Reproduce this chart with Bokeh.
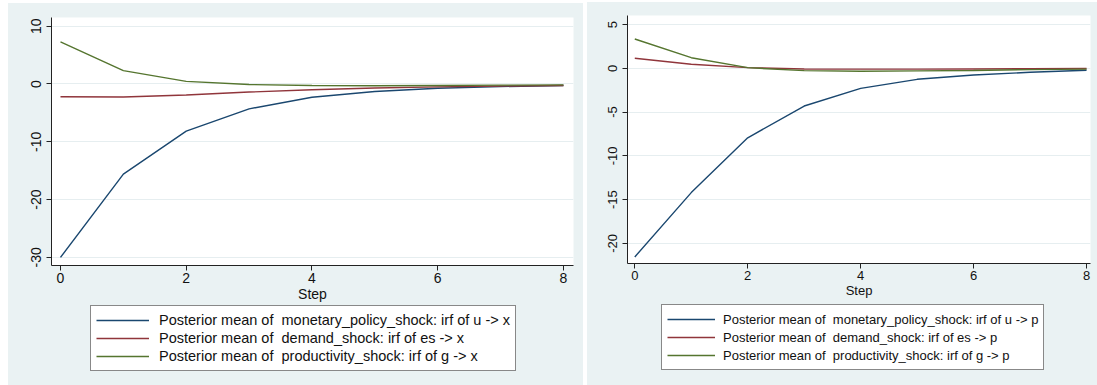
from bokeh.plotting import figure
from bokeh.models import Legend, LegendItem, FixedTicker, Range1d
from bokeh.layouts import row, column
from bokeh.embed import file_html
from bokeh.resources import INLINE

# Impulse-response horizon
steps = [0, 1, 2, 3, 4, 5, 6, 7, 8]

# Responses of output x
irf_u_x = [-30.0, -15.6, -8.15, -4.3, -2.3, -1.3, -0.75, -0.45, -0.25]
irf_es_x = [-2.2, -2.25, -1.9, -1.4, -1.0, -0.7, -0.5, -0.35, -0.25]
irf_g_x = [7.3, 2.3, 0.45, -0.1, -0.25, -0.3, -0.25, -0.2, -0.15]

# Responses of prices p
irf_u_p = [-21.55, -14.2, -7.94, -4.31, -2.29, -1.26, -0.77, -0.46, -0.23]
irf_es_p = [1.14, 0.46, 0.07, -0.08, -0.1, -0.1, -0.08, -0.05, -0.03]
irf_g_p = [3.35, 1.21, 0.07, -0.27, -0.34, -0.3, -0.25, -0.15, -0.1]

x_ticks = [0, 2, 4, 6, 8]
y_ticks_x = [-30, -20, -10, 0, 10]
y_ticks_p = [-20, -15, -10, -5, 0, 5]

labels_x = [
    "Posterior mean of  monetary_policy_shock: irf of u -> x",
    "Posterior mean of  demand_shock: irf of es -> x",
    "Posterior mean of  productivity_shock: irf of g -> x",
]
labels_p = [
    "Posterior mean of  monetary_policy_shock: irf of u -> p",
    "Posterior mean of  demand_shock: irf of es -> p",
    "Posterior mean of  productivity_shock: irf of g -> p",
]

COLORS = ["#1a476f", "#90353b", "#55752f"]
BG = "#eaf2f3"
FONT = "Liberation Sans"


def make_plot(series, yticks, xr, yr, width, height, borders, fs):
    left, right, top, bottom = borders
    p = figure(width=width, height=height, output_backend="svg", toolbar_location=None,
               x_range=Range1d(*xr), y_range=Range1d(*yr),
               min_border_left=left, min_border_right=right,
               min_border_top=top, min_border_bottom=bottom,
               frame_align=False, styles={"background-color": BG})
    p.border_fill_color = BG
    p.background_fill_color = "white"
    p.outline_line_color = None

    p.xgrid.visible = False
    p.ygrid.ticker = FixedTicker(ticks=yticks)
    p.ygrid.grid_line_color = "#e6eef0"
    p.ygrid.grid_line_width = 1

    for ax in (p.xaxis[0], p.yaxis[0]):
        ax.axis_line_color = "#222222"
        ax.axis_line_width = 1
        ax.major_tick_line_color = "#222222"
        ax.major_tick_out = 5
        ax.major_tick_in = 0
        ax.minor_tick_out = 0
        ax.minor_tick_in = 0
        ax.major_label_text_font = FONT
        ax.major_label_text_font_size = f"{fs}px"
        ax.major_label_text_color = "#111111"

    p.xaxis.ticker = FixedTicker(ticks=x_ticks)
    p.yaxis.ticker = FixedTicker(ticks=yticks)
    # plain hyphen for negative tick labels
    p.yaxis.major_label_overrides = {t: str(t) for t in yticks}
    p.yaxis.major_label_orientation = "vertical"
    p.yaxis.major_label_standoff = 5
    p.xaxis.major_label_standoff = 2
    p.xaxis.axis_label = "Step"
    p.xaxis.axis_label_text_font = FONT
    p.xaxis.axis_label_text_font_size = f"{fs}px"
    p.xaxis.axis_label_text_font_style = "normal"
    p.xaxis.axis_label_text_color = "#111111"
    p.xaxis.axis_label_standoff = 0

    for vals, col in zip(series, COLORS):
        p.line(steps, vals, line_color=col, line_width=1.4)
    return p


def make_legend(series, labels, width, height, loc, legend_fs, glyph_w, standoff, pad):
    # strip under the plot that only carries the key
    f = figure(width=width, height=height, output_backend="svg", toolbar_location=None,
               x_range=Range1d(0, 1), y_range=Range1d(0, 1),
               x_axis_type=None, y_axis_type=None,
               min_border_left=0, min_border_right=0,
               min_border_top=0, min_border_bottom=0,
               frame_align=False, styles={"background-color": BG})
    f.margin = (-2, 0, 0, 0)
    f.border_fill_color = BG
    f.background_fill_color = BG
    f.outline_line_color = None
    f.xgrid.visible = False
    f.ygrid.visible = False

    items = []
    for vals, lab, col in zip(series, labels, COLORS):
        r = f.line(steps, vals, line_color=col, line_width=1.4, visible=False)
        items.append(LegendItem(label=lab, renderers=[r]))

    legend = Legend(items=items, location=loc, orientation="vertical",
                    border_line_color="#111111", border_line_width=1,
                    background_fill_color="white", background_fill_alpha=1.0,
                    label_text_font=FONT, label_text_font_size=f"{legend_fs}px",
                    label_text_color="#111111",
                    glyph_width=glyph_w, glyph_height=18, label_height=18,
                    label_standoff=standoff, padding=pad, spacing=0, margin=0)
    f.add_layout(legend)
    return f


series_x = [irf_u_x, irf_es_x, irf_g_x]
series_p = [irf_u_p, irf_es_p, irf_g_p]

left_plot = make_plot(series_x, y_ticks_x, (-0.143, 8.16), (-31.4, 11.5),
                      575, 303, (43, 10, 14, 41), 14)
left_key = make_legend(series_x, labels_x, 575, 81, (82, 14), 14.5, 53, 10, 5)

right_plot = make_plot(series_p, y_ticks_p, (-0.129, 8.07), (-22.3, 6.03),
                       510, 303, (40, 7, 13, 42), 13)
right_key = make_legend(series_p, labels_p, 510, 82, (74, 15), 13, 48, 8, 5)

left_col = column(left_plot, left_key, spacing=0, styles={"background-color": BG})
left_col.margin = (3, 4, 0, 8)
right_col = column(right_plot, right_key, spacing=0, styles={"background-color": BG})
right_col.margin = (2, 0, 0, 0)

layout = row(left_col, right_col, spacing=0)

open("out.html", "w").write(file_html(layout, INLINE))
